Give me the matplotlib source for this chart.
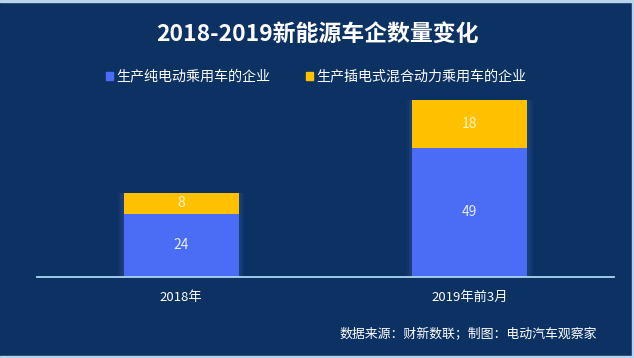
import matplotlib
matplotlib.use("Agg")
import matplotlib.pyplot as plt
from matplotlib.patches import Rectangle

plt.rcParams['font.family'] = ['Noto Sans CJK SC', 'DejaVu Sans']

categories = ["2018年", "2019年前3月"]
series_names = ["生产纯电动乘用车的企业", "生产插电式混合动力乘用车的企业"]
bev = [24, 49]
phev = [8, 18]
title = "2018-2019新能源车企数量变化"
source = "数据来源：财新数联；制图：电动汽车观察家"

bg = "#0c3163"
c_blue = "#4b6cf5"
c_yellow = "#ffc000"

W, H = 634, 358
fig = plt.figure(figsize=(W/100, H/100), dpi=100, facecolor=bg)

ax_left, ax_right = 37, 614
ax_bottom = 277
ymax = 80
px_per_unit = 2.635
ax_top = ax_bottom - ymax*px_per_unit
ax = fig.add_axes([ax_left/W, (H-ax_bottom)/H, (ax_right-ax_left)/W, (ax_bottom-ax_top)/H])
ax.set_facecolor(bg)
ax.set_xlim(-0.5, 1.5)
ax.set_ylim(0, ymax)

x = list(range(len(categories)))
bw = 0.4
# subtle glow
for k in range(3):
    ax.bar(x, [b+p for b, p in zip(bev, phev)], width=bw+0.012*(k+1), color="#5a7ad0", alpha=0.08, zorder=1)
ax.bar(x, bev, width=bw, color=c_blue, zorder=2)
ax.bar(x, phev, width=bw, bottom=bev, color=c_yellow, zorder=2)

for i in x:
    ax.text(i, bev[i]/2, str(bev[i]), ha='center', va='center', color='#e8eef8', fontsize=10, zorder=3)
    ax.text(i, bev[i] + phev[i]/2, str(phev[i]), ha='center', va='center', color='#fff4d0', fontsize=10, zorder=3)

for s in ['top', 'right', 'left']:
    ax.spines[s].set_visible(False)
ax.spines['bottom'].set_color('#a8d8f0')
ax.spines['bottom'].set_linewidth(1.3)
ax.set_yticks([])
ax.set_xticks(x)
ax.set_xticklabels(categories, color='white', fontsize=9.5)
ax.tick_params(axis='x', length=0, pad=10)

fig.text(0.5, (H-34)/H, title, ha='center', va='center', color='white', fontsize=16.5, fontweight='bold')

# legend
ly = (H-76)/H
fig.patches.append(Rectangle((106/W, (H-80)/H), 7/W, 8/H, transform=fig.transFigure, color=c_blue, figure=fig))
fig.text(116/W, ly, series_names[0], ha='left', va='center', color='white', fontsize=10.1)
fig.patches.append(Rectangle((306/W, (H-80)/H), 7/W, 8/H, transform=fig.transFigure, color=c_yellow, figure=fig))
fig.text(316/W, ly, series_names[1], ha='left', va='center', color='white', fontsize=10.1)

fig.text(597/W, (H-335)/H, source, ha='right', va='center', color='white', fontsize=9.3)

# light frame edges
edge = "#b8d4ea"
fig.patches.append(Rectangle((0, (H-2)/H), 1, 2/H, transform=fig.transFigure, color=edge, figure=fig))
fig.patches.append(Rectangle(((W-2)/W, 0), 2/W, 1, transform=fig.transFigure, color=edge, figure=fig))
fig.patches.append(Rectangle((0, 0), 1, 2/H, transform=fig.transFigure, color=edge, figure=fig))

fig.savefig("out.png", dpi=100, facecolor=bg)
